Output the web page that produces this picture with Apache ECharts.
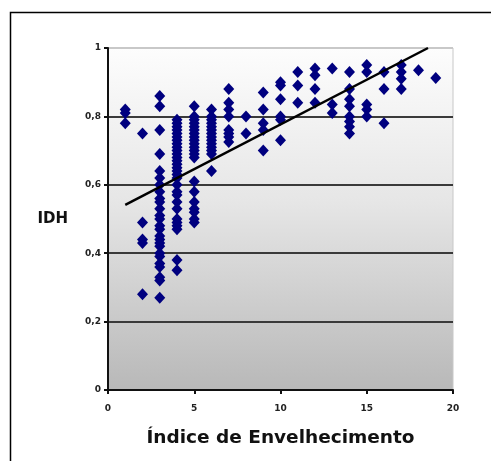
<!DOCTYPE html>
<html>
<head>
<meta charset="utf-8">
<script src="https://cdn.jsdelivr.net/npm/echarts@6/dist/echarts.min.js"></script>
<style>html,body{margin:0;padding:0;background:#fff}#c{width:491px;height:461px}</style>
</head>
<body>
<div id="c"></div>
<script>
// Índice de Envelhecimento (x) values that have points, and IDH values per x
const ageIndex = [1, 2, 3, 4, 5, 6, 7, 8, 9, 10, 11, 12, 13, 14, 15, 16, 17, 18, 19];
const idhAt1 = [0.82, 0.81, 0.78];
const idhAt2 = [0.75, 0.49, 0.44, 0.43, 0.28];
const idhAt3 = [0.86, 0.83, 0.76, 0.69, 0.64, 0.62, 0.60, 0.58, 0.56, 0.55, 0.53, 0.51, 0.50, 0.48, 0.47, 0.45, 0.44, 0.43, 0.42, 0.40, 0.39, 0.37, 0.36, 0.33, 0.32, 0.27];
const idhAt4 = [0.79, 0.78, 0.77, 0.76, 0.75, 0.74, 0.73, 0.72, 0.71, 0.70, 0.69, 0.68, 0.67, 0.66, 0.65, 0.64, 0.63, 0.62, 0.60, 0.58, 0.57, 0.55, 0.53, 0.50, 0.49, 0.48, 0.47, 0.38, 0.35];
const idhAt5 = [0.83, 0.80, 0.79, 0.78, 0.77, 0.76, 0.75, 0.74, 0.73, 0.72, 0.71, 0.70, 0.69, 0.68, 0.61, 0.58, 0.55, 0.53, 0.52, 0.50, 0.49];
const idhAt6 = [0.82, 0.80, 0.79, 0.78, 0.77, 0.76, 0.75, 0.74, 0.73, 0.72, 0.71, 0.70, 0.69, 0.64];
const idhAt7 = [0.88, 0.84, 0.82, 0.80, 0.76, 0.75, 0.74, 0.725];
const idhAt8 = [0.80, 0.75];
const idhAt9 = [0.87, 0.82, 0.78, 0.76, 0.70];
const idhAt10 = [0.90, 0.89, 0.85, 0.80, 0.79, 0.73];
const idhAt11 = [0.93, 0.89, 0.84];
const idhAt12 = [0.94, 0.92, 0.88, 0.84];
const idhAt13 = [0.94, 0.835, 0.81];
const idhAt14 = [0.93, 0.88, 0.85, 0.83, 0.80, 0.785, 0.77, 0.75];
const idhAt15 = [0.95, 0.93, 0.835, 0.82, 0.80];
const idhAt16 = [0.93, 0.88, 0.78];
const idhAt17 = [0.95, 0.93, 0.91, 0.88];
const idhAt18 = [0.935];
const idhAt19 = [0.912];
const idhColumns = [idhAt1, idhAt2, idhAt3, idhAt4, idhAt5, idhAt6, idhAt7, idhAt8, idhAt9, idhAt10,
  idhAt11, idhAt12, idhAt13, idhAt14, idhAt15, idhAt16, idhAt17, idhAt18, idhAt19];
// linear trend line endpoints
const trendX = [1, 18.55];
const trendY = [0.541, 1.0];
const yTickLabels = {0: '0', 0.2: '0,2', 0.4: '0,4', 0.6: '0,6', 0.8: '0,8', 1: '1'};

const points = [];
ageIndex.forEach((x, i) => idhColumns[i].forEach(v => points.push([x, v])));
const trend = trendX.map((x, i) => [x, trendY[i]]);

const chart = echarts.init(document.getElementById('c'), null, {renderer: 'canvas'});
const labelFont = {fontFamily: 'DejaVu Sans', fontWeight: 'bold', fontSize: 9, color: '#222'};
chart.setOption({
  animation: false,
  backgroundColor: '#fff',
  graphic: [{
    type: 'rect', left: 8, top: 10, shape: {width: 495, height: 470},
    style: {fill: 'none', stroke: '#000', lineWidth: 1.5}, silent: true
  }],
  grid: {
    left: 108, right: 38, top: 48, bottom: 71, show: true,
    borderColor: '#c8c8c8', borderWidth: 1,
    backgroundColor: {type: 'linear', x: 0, y: 0, x2: 0, y2: 1,
      colorStops: [{offset: 0, color: '#fdfdfd'}, {offset: 0.45, color: '#e6e6e6'}, {offset: 1, color: '#b8b8b8'}]}
  },
  xAxis: {
    type: 'value', min: 0, max: 20, interval: 5,
    name: 'Índice de Envelhecimento', nameLocation: 'middle', nameGap: 39,
    nameTextStyle: {fontFamily: 'DejaVu Sans', fontWeight: 'bold', fontSize: 18.5, color: '#111'},
    axisLine: {show: true, lineStyle: {color: '#111', width: 2}},
    axisTick: {show: true, length: 4, lineStyle: {color: '#111', width: 2}},
    axisLabel: Object.assign({margin: 14}, labelFont),
    splitLine: {show: false}
  },
  yAxis: {
    type: 'value', min: 0, max: 1, interval: 0.2,
    name: 'IDH', nameLocation: 'middle', nameGap: 40, nameRotate: 0,
    nameTextStyle: {fontFamily: 'DejaVu Sans', fontWeight: 'bold', fontSize: 15, color: '#111', align: 'right'},
    axisLine: {show: true, lineStyle: {color: '#111', width: 2}},
    axisTick: {show: true, length: 4, lineStyle: {color: '#111', width: 2}},
    axisLabel: Object.assign({margin: 7, formatter: v => yTickLabels[Math.round(v * 10) / 10]}, labelFont),
    splitLine: {show: true, lineStyle: {color: ['#111', '#3a3a3a', '#3a3a3a', '#3a3a3a', '#3a3a3a', '#c8c8c8'], width: 2}}
  },
  series: [{
    type: 'scatter', data: points, symbol: 'diamond', symbolSize: [11, 12],
    itemStyle: {color: '#00007f', opacity: 1}, z: 3
  }, {
    type: 'line', data: trend, showSymbol: false, symbol: 'none',
    lineStyle: {color: '#000', width: 2.5}, z: 4
  }]
});
</script>
</body>
</html>
